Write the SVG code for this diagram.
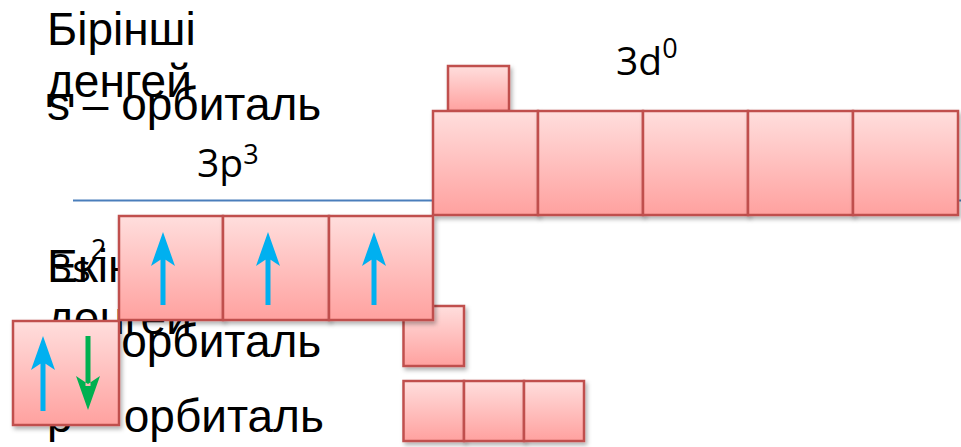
<svg xmlns="http://www.w3.org/2000/svg" width="961" height="447" viewBox="0 0 961 447">
<style>
.t{font-family:"Liberation Sans",Arial,sans-serif;font-size:46px;fill:#000}
.c{font-family:"Open Sans","Liberation Sans",sans-serif;font-size:39px;fill:#000}
.sup{font-size:27px}
.box{fill:url(#g);stroke:#c0504d;stroke-width:2.5;filter:url(#sh)}
.up{fill:#00b0f0}
.dn{fill:#00b050}
</style>
<defs>
<linearGradient id="g" x1="0" y1="0" x2="0" y2="1">
<stop offset="0" stop-color="#ffdedd"/>
<stop offset="1" stop-color="#ffa19f"/>
</linearGradient>
<filter id="sh" x="-20%" y="-20%" width="150%" height="150%">
<feDropShadow dx="2" dy="3" stdDeviation="2" flood-color="#000" flood-opacity="0.3"/>
</filter>
</defs>
<g id="connectors">
<line x1="73" y1="200.5" x2="961" y2="200.5" stroke="#4a7ebb" stroke-width="1.8"/>
</g>
<g id="upper-labels">
<text class="t" x="47" y="45">Бірінші</text>
<text class="t" x="47" y="97">денгей</text>
<text class="t" x="47" y="120">s – орбиталь</text>
<text class="c" x="197" y="177">3p<tspan class="sup" dy="-13">3</tspan></text>
<text class="c" x="616" y="75">3d<tspan class="sup" dy="-17">0</tspan></text>
</g>
<g id="lower-labels">
<text class="t" x="47" y="282">Екінші</text>
<text class="t" x="47" y="334">денгей</text>
<text class="c" x="50" y="282">3s<tspan class="sup" dy="-23">2</tspan></text>
<text class="t" x="47" y="357">s – орбиталь</text>
<text class="t" x="47" y="432">p – орбиталь</text>
</g>
<g id="s-orbital">
<rect class="box" x="403.5" y="306" width="60.5" height="60"/>
</g>
<g id="p-orbital">
<rect class="box" x="403.5" y="381" width="60.5" height="60"/>
<rect class="box" x="464" y="381" width="60" height="60"/>
<rect class="box" x="524" y="381" width="60" height="60"/>
</g>
<g id="small-box-3d">
<rect class="box" x="448" y="66" width="61" height="45"/>
</g>
<g id="orbitals-3d">
<rect class="box" x="433" y="111" width="105" height="104"/>
<rect class="box" x="538" y="111" width="105" height="104"/>
<rect class="box" x="643" y="111" width="105" height="104"/>
<rect class="box" x="748" y="111" width="105" height="104"/>
<rect class="box" x="853" y="111" width="105" height="104"/>
</g>
<g id="orbitals-3p">
<rect class="box" x="119" y="216" width="104" height="104"/>
<rect class="box" x="223" y="216" width="106" height="104"/>
<rect class="box" x="329" y="216" width="104" height="104"/>
<path class="up" d="M160.5 256h5v49h-5z M163 232 L175 266 L163 258 L151 266 Z"/>
<path class="up" d="M265.5 256h5v49h-5z M268 232 L280 266 L268 258 L256 266 Z"/>
<path class="up" d="M371.5 256h5v49h-5z M374 232 L386 266 L374 258 L362 266 Z"/>
</g>
<g id="orbital-3s">
<rect class="box" x="13" y="321" width="106" height="104"/>
<path class="up" d="M40.5 361h5v50h-5z M43 336 L55 370 L43 362 L31 370 Z"/>
<path class="dn" d="M85.5 336h5v50h-5z M88 410 L100 376 L88 384 L76 376 Z"/>
</g>
</svg>
